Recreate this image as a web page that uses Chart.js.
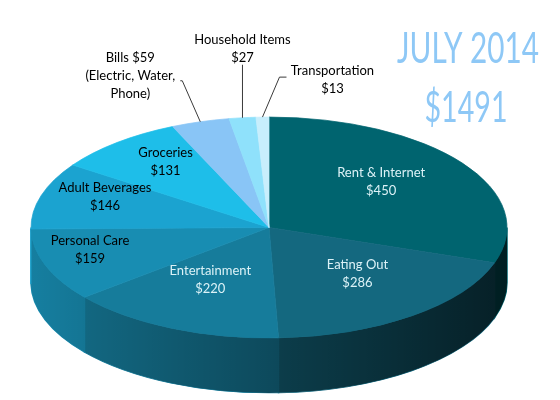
<!DOCTYPE html>
<html>
<head>
<meta charset="utf-8">
<title>July 2014</title>
<script src="https://cdn.jsdelivr.net/npm/chart.js@4.4.1/dist/chart.umd.min.js"></script>
<style>
  html, body { margin: 0; padding: 0; background: #fff; }
  #wrap { position: relative; width: 560px; height: 400px; }
</style>
</head>
<body>
<div id="wrap"><canvas id="chartGastos"></canvas></div>
<script>
const categories = ['Rent & Internet', 'Eating Out', 'Entertainment', 'Personal Care', 'Adult Beverages', 'Groceries', 'Bills', 'Household Items', 'Transportation'];
const amounts = [450, 286, 220, 159, 146, 131, 59, 27, 13];
const billsNote = ['(Electric, Water,', 'Phone)'];
const monthTitle = 'JULY 2014';

const colors = ['#00646f', '#14687f', '#167c9b', '#188db2', '#1ba3d0', '#1ebee9', '#89c5f6', '#8fe1fb', '#c8eefc'];
const textColors = ['#dcf2f7', '#dcf2f7', '#dcf2f7', '#000', '#000', '#000', '#000', '#000', '#000'];
// where each label goes: r = fraction of radius (inside), lead/text = leader line + text offset from rim (outside)
const labelPos = [
  { r: 0.58 }, { r: 0.62 }, { r: 0.6 }, { r: 0.8 }, { r: 0.72 }, { r: 0.68 },
  { lead: [-18, -41, -2], text: [-70, -46] },
  { lead: [0, -53, 0], text: [0, -69] },
  { lead: [17, -40, 7], text: [70, -37] }
];
const squash = 0.464;   // vertical tilt of the pie
const depth = 55;       // thickness of the side, px

const money = v => '$' + v;
const total = amounts.reduce((a, b) => a + b, 0);

function labelLines(i) {
  if (categories[i] === 'Bills') return [`${categories[i]} ${money(amounts[i])}`, ...billsNote];
  return [categories[i], money(amounts[i])];
}

function drawLabels(chart) {
  const ctx = chart.ctx;
  const arcs = chart.getDatasetMeta(0).data;
  ctx.save();
  ctx.font = "13px Lato, 'Open Sans', sans-serif";
  ctx.textAlign = 'center';
  ctx.textBaseline = 'middle';
  arcs.forEach((arc, i) => {
    const mid = (arc.startAngle + arc.endAngle) / 2;
    const at = f => ({ x: arc.x + Math.cos(mid) * arc.outerRadius * f, y: arc.y + Math.sin(mid) * arc.outerRadius * f * squash });
    const pos = labelPos[i];
    let cx, cy;
    if (pos.lead) {
      const p0 = at(1);
      const p1 = { x: p0.x + pos.lead[0], y: p0.y + pos.lead[1] };
      ctx.beginPath();
      ctx.moveTo(p0.x, p0.y);
      ctx.lineTo(p1.x, p1.y);
      ctx.lineTo(p1.x + pos.lead[2], p1.y);
      ctx.strokeStyle = '#3a3a3a';
      ctx.lineWidth = 1;
      ctx.stroke();
      cx = p0.x + pos.text[0];
      cy = p0.y + pos.text[1];
    } else {
      const p = at(pos.r);
      cx = p.x;
      cy = p.y - 8;
    }
    const lines = labelLines(i);
    ctx.fillStyle = textColors[i];
    lines.forEach((t, j) => ctx.fillText(t, cx, cy + (j - (lines.length - 1) / 2) * 18));
  });
  ctx.restore();
}

function drawCondensed(ctx, text, cx, baseline, width, size) {
  ctx.save();
  ctx.font = `400 ${size}px Lato, 'Liberation Sans Narrow', sans-serif`;
  const w = ctx.measureText(text).width;
  ctx.translate(cx, baseline);
  ctx.scale(width / w, 1);
  ctx.textAlign = 'center';
  ctx.textBaseline = 'alphabetic';
  ctx.fillStyle = '#8ec8f6';
  ctx.fillText(text, 0, 0);
  ctx.restore();
}

const pie3d = {
  id: 'pie3d',
  beforeDatasetsDraw(chart) {
    const ctx = chart.ctx;
    const arcs = chart.getDatasetMeta(0).data;
    const { x, y, outerRadius: r } = arcs[0];
    const d = depth / squash;
    ctx.save();
    ctx.translate(x, y);
    ctx.scale(1, squash);
    // side of each slice, front half only
    arcs.forEach((arc, i) => {
      const s = Math.max(arc.startAngle, 0);
      const e = Math.min(arc.endAngle, Math.PI);
      if (s >= e) return;
      ctx.beginPath();
      ctx.arc(0, d, r, s, e);
      ctx.arc(0, 0, r, e, s, true);
      ctx.closePath();
      ctx.fillStyle = colors[i];
      ctx.strokeStyle = colors[i];
      ctx.lineWidth = 1.5;
      ctx.fill();
      ctx.stroke();
    });
    // darker to the right
    const shade = ctx.createLinearGradient(-r, 0, r, 0);
    shade.addColorStop(0, 'rgba(0,0,0,0.1)');
    shade.addColorStop(1, 'rgba(0,0,0,0.7)');
    ctx.beginPath();
    ctx.arc(0, d, r, 0, Math.PI);
    ctx.arc(0, 0, r, Math.PI, 0, true);
    ctx.closePath();
    ctx.fillStyle = shade;
    ctx.fill();
    ctx.translate(-x, -y);
  },
  afterDatasetsDraw(chart) {
    chart.ctx.restore();
    drawLabels(chart);
    drawCondensed(chart.ctx, monthTitle, 468, 63, 142, 42);
    drawCondensed(chart.ctx, money(total), 466, 122, 83, 42);
  }
};

new Chart(document.getElementById('chartGastos'), {
  type: 'pie',
  data: {
    labels: categories,
    datasets: [{ data: amounts, backgroundColor: colors, borderColor: colors, borderWidth: 1, radius: 238, clip: false }]
  },
  options: {
    responsive: true,
    maintainAspectRatio: false,
    animation: false,
    events: [],
    layout: { padding: { left: 0, right: 22, top: 55, bottom: 0 } },
    plugins: { legend: { display: false }, tooltip: { enabled: false } }
  },
  plugins: [pie3d]
});
</script>
</body>
</html>
